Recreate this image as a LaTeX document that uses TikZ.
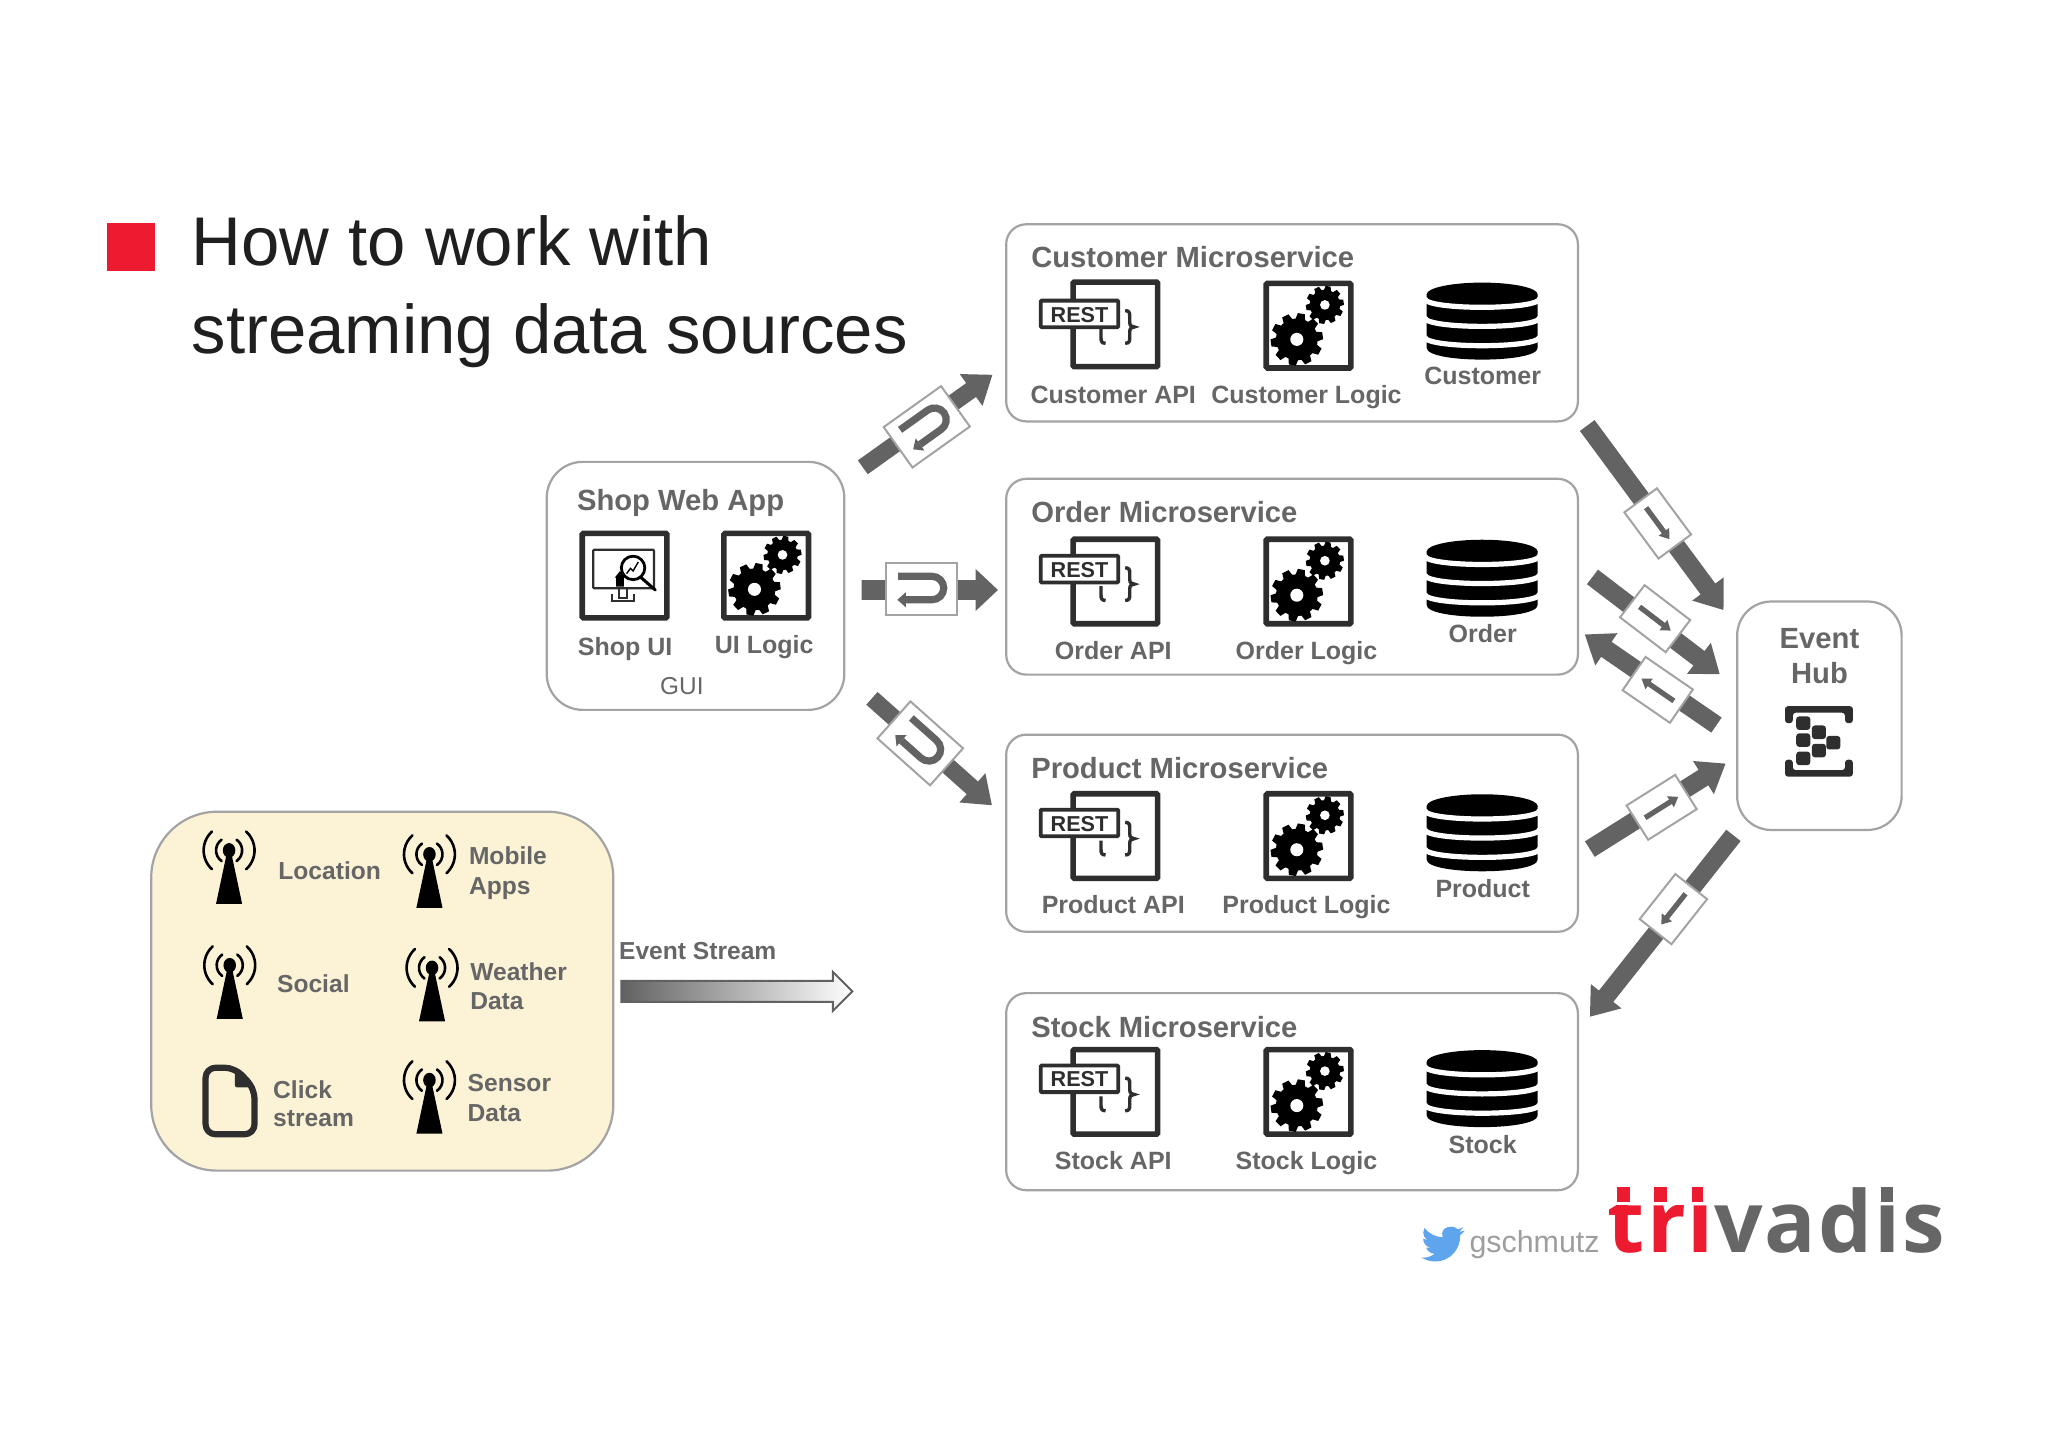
\documentclass[tikz,border=0pt]{standalone}
\usepackage{fontspec}
\setmainfont{Liberation Sans}
\newfontfamily\logofont[LetterSpace=2.5]{Open Sans}
\usetikzlibrary{calc}
\definecolor{txtgrey}{HTML}{666666}
\definecolor{flowgrey}{HTML}{636363}
\definecolor{edgegrey}{HTML}{A3A3A3}
\definecolor{icondark}{HTML}{2E2E2E}
\definecolor{creamfill}{HTML}{FCF3D6}
\definecolor{trired}{HTML}{ED1B2F}
\definecolor{birdblue}{HTML}{5FA5EE}
\def\uu{0.65265pt}
\tikzset{
  panel/.style={draw=edgegrey,line width=1.1pt,fill=white,rounded corners=10pt,inner sep=0pt,anchor=north west},
  headtxt/.style={anchor=base west,inner sep=0pt,xshift=0.5pt,yshift=-0.4pt,text=txtgrey,font=\fontsize{14.6}{17}\selectfont\bfseries},
  lbl/.style={anchor=base,inner sep=0pt,xshift=0.6pt,yshift=-0.6pt,text=txtgrey,font=\fontsize{12.5}{15}\selectfont\bfseries},
  lblw/.style={anchor=base west,inner sep=0pt,yshift=-0.6pt,text=txtgrey,font=\fontsize{12.3}{15}\selectfont\bfseries},
  flowbox/.style={draw=edgegrey,line width=1pt,fill=white,inner sep=0pt},
}
\newcommand\gearshape[5]{%
  \begin{scope}[shift={(#1,#2)}]
    \fill[black] (0,0) circle[radius={0.8*#3}];
    \foreach \a in {1,...,#5}{
      \fill[black,rotate={\a*360/#5+8}] ({0.7*#3},{-0.2*#3}) -- ({#3},{-0.135*#3}) -- ({#3},{0.135*#3}) -- ({0.7*#3},{0.2*#3}) -- cycle;
    }
    \fill[white] (0,0) circle[radius={#4}];
  \end{scope}}
\newcommand\logicicon[2]{%
  \draw[icondark,line width=2.8pt,fill=white,rounded corners=0.6pt] (#1+2.1,#2+2.1) rectangle (#1+66.9,#2+66.9);
  \gearshape{#1+25.5}{#2+45}{20}{5}{10}
  \gearshape{#1+47}{#2+18.6}{14.5}{3.7}{10}}
% x, y of the document, vertical nudge of the REST tab
\newcommand\resticon[3]{%
  \begin{scope}[shift={(#1,#2)}]
    \draw[icondark,line width=2.8pt,fill=white,rounded corners=0.6pt] (2.1,2.1) rectangle (66.9,66.9);
    \draw[icondark,line width=1.9pt,fill=white,rounded corners=0.5pt] (-22.7,16.3+#3) rectangle (36.7,36.7+#3);
    \node[inner sep=0pt,anchor=base,text=icondark,font=\fontsize{10.8}{12}\selectfont\bfseries] (rest) at (7,32.7+#3) {REST};
    \draw[icondark,line width=1.7pt] (42,24) .. controls (45,24) and (45.5,25.5) .. (45.5,28) -- (45.5,33) .. controls (45.5,35.5) and (47,36.5) .. (49,36.5) .. controls (47,36.5) and (45.5,37.5) .. (45.5,40) -- (45.5,45) .. controls (45.5,47.5) and (45,49) .. (42,49);
    \draw[icondark,line width=1.7pt] (23.5,38) -- (23.5,45) .. controls (23.5,47.5) and (24,49) .. (27,49);
  \end{scope}}
\newcommand\dbicon[2]{%
  \begin{scope}[shift={(#1,#2)}]
    \fill[black] (-42.5,9) -- (-42.5,50) .. controls (-42.5,62) and (42.5,62) .. (42.5,50) -- (42.5,9) -- cycle;
    \fill[black] (0,9) ellipse[x radius=42.5,y radius=9];
    \foreach \yy in {12.2,26.8,41.6}{
      \draw[white,line width=2.6pt] (-44,\yy) .. controls (-44,\yy+9) and (44,\yy+9) .. (44,\yy);
    }
  \end{scope}}
\newcommand\antennaicon[2]{%
  \begin{scope}[shift={(#1,#2)}]
    \fill[black] (-1.5,-40) -- (1.5,-40) -- (10,0) -- (-10,0) -- cycle;
    \fill[black] (0,-41) ellipse[x radius=4.8,y radius=5.6];
    \draw[black,line width=1.3pt,line cap=round] (0,-41) ++(125:10) arc[start angle=125,end angle=235,radius=10];
    \draw[black,line width=1.3pt,line cap=round] (0,-41) ++(55:10) arc[start angle=55,end angle=-55,radius=10];
    \draw[black,line width=1.3pt,line cap=round] (0,-41) ++(132:19.5) arc[start angle=132,end angle=228,radius=19.5];
    \draw[black,line width=1.3pt,line cap=round] (0,-41) ++(48:19.5) arc[start angle=48,end angle=-48,radius=19.5];
  \end{scope}}
% tail, tip, label centre, shaft w, head w, head len, box w, box h, glyph (0 straight, 1 U)
\newcommand\blockflow[9]{%
  \path (#1); \pgfgetlastxy{\xa}{\ya}%
  \path (#2); \pgfgetlastxy{\xb}{\yb}%
  \pgfmathsetmacro\ang{atan2(\yb-\ya,\xb-\xa)}%
  \pgfmathsetmacro\len{veclen(\xb-\xa,\yb-\ya)/0.65265}%
  \pgfmathsetmacro\neck{\len-#6}%
  \begin{scope}[shift={(#1)},rotate=\ang]
    \fill[flowgrey] (0,-#4/2) -- (\neck,-#4/2) -- (\neck,-#5/2) -- (\len,0) -- (\neck,#5/2) -- (\neck,#4/2) -- (0,#4/2) -- cycle;
  \end{scope}
  \node[flowbox,rotate=\ang,minimum width={#7*\uu},minimum height={#8*\uu}] (#3box) at (#3) {};
  \begin{scope}[shift={(#3)},rotate=\ang]
    \ifnum#9=1
      \draw[flowgrey,line width=3.6pt] (-18,-10) -- (8,-10) arc[start angle=-90,end angle=90,radius=9] -- (-12,8);
      \fill[flowgrey] (-18.5,8) -- (-12,2.2) -- (-12,13.8) -- cycle;
    \else
      \fill[flowgrey] (-15,-2) -- (8,-2) -- (8,-5) -- (15,0) -- (8,5) -- (8,2) -- (-15,2) -- cycle;
    \fi
  \end{scope}}
\begin{document}
\begin{tikzpicture}[x=0.65265pt,y=-0.65265pt]
\useasboundingbox (0,0) rectangle (1569,1108.6);
\fill[white] (0,0) rectangle (1569,1108.6);
% title
\fill[trired] (82,170.5) rectangle (119,207.5);
\node[anchor=base west,inner sep=0pt,text=black!88,font=\fontsize{34.45}{40}\selectfont] (title1) at (146.5,203.5) {How to work with};
\node[anchor=base west,inner sep=0pt,text=black!88,font=\fontsize{34.45}{40}\selectfont] (title2) at (146.5,270.5) {streaming data sources};
% panels
\node[panel,minimum width={438*\uu},minimum height={151*\uu}] (customer) at (770,171) {};
\node[panel,minimum width={438*\uu},minimum height={150*\uu}] (order) at (770,366) {};
\node[panel,minimum width={438*\uu},minimum height={151*\uu}] (product) at (770,562) {};
\node[panel,minimum width={438*\uu},minimum height={151*\uu}] (stock) at (770,760) {};
\node[panel,rounded corners=18pt,minimum width={228*\uu},minimum height={190*\uu}] (shop) at (418,353) {};
\node[panel,rounded corners=17pt,minimum width={126*\uu},minimum height={175*\uu}] (hub) at (1330,460) {};
\node[panel,rounded corners=33pt,fill=creamfill,minimum width={354*\uu},minimum height={275*\uu}] (sources) at (115,621) {};
% microservice rows
\node[headtxt] (ct) at (789,204.5) {Customer Microservice};
\node[headtxt] (ot) at (789,400) {Order Microservice};
\node[headtxt] (pt) at (789,596) {Product Microservice};
\node[headtxt] (st) at (789,794) {Stock Microservice};
\resticon{820}{214}{0}\logicicon{968}{215}\dbicon{1135.5}{216.5}
\resticon{820}{411}{-1.5}\logicicon{968}{411}\dbicon{1135.5}{413.5}
\resticon{820}{606}{-2}\logicicon{968}{606}\dbicon{1135.5}{608.5}
\resticon{820}{802}{-2}\logicicon{968}{802}\dbicon{1135.5}{804.5}
\node[lbl] (c1) at (852,308) {Customer API};
\node[lbl] (c2) at (1000,308) {Customer Logic};
\node[lbl] (c3) at (1135,293.5) {Customer};
\node[lbl] (o1) at (852,504) {Order API};
\node[lbl] (o2) at (1000,504) {Order Logic};
\node[lbl] (o3) at (1135,491) {Order};
\node[lbl] (p1) at (852,699) {Product API};
\node[lbl] (p2) at (1000,699) {Product Logic};
\node[lbl] (p3) at (1135,686.5) {Product};
\node[lbl] (s1) at (852,895) {Stock API};
\node[lbl] (s2) at (1000,895) {Stock Logic};
\node[lbl] (s3) at (1135,883) {Stock};
% shop
\node[headtxt] (sh) at (441,390.5) {Shop Web App};
\begin{scope}[shift={(444,406.5)}]
  \draw[icondark,line width=2.8pt,fill=white,rounded corners=0.6pt] (2.1,2.1) rectangle (66.9,66.9);
  \draw[icondark,line width=1.1pt,rounded corners=0.5pt] (10.5,14.6) rectangle (57,44.2);
  \draw[icondark,line width=1pt] (30,44.2) -- (30,51.6) -- (36.5,51.6) -- (36.5,44.2);
  \draw[icondark,line width=1pt] (25,48.5) -- (25,54) -- (42,54) -- (42,48.5);
  \draw[black,line width=1.5pt,line cap=round] (46,35) -- (58,45.5);
  \draw[black,fill=white,line width=1.4pt] (41,28.6) circle[radius=9];
  \draw[black,line width=0.7pt] (36,33) -- (39,29) -- (41,31) -- (45,24);
  \fill[black] (27,36) -- (31,31) -- (35,36) -- (34,36) -- (34,43) -- (28,43) -- (28,36) -- cycle;
\end{scope}
\logicicon{552.5}{406.5}
\node[lbl] (s4) at (478,501.5) {Shop UI};
\node[lbl] (s5) at (584.5,499.5) {UI Logic};
\node[lbl,font=\fontsize{12.2}{15}\selectfont] (gui) at (521.5,531.5) {GUI};
% hub
\node[lbl,font=\fontsize{14.6}{17}\selectfont\bfseries] (h1) at (1393,496) {Event};
\node[lbl,font=\fontsize{14.6}{17}\selectfont\bfseries] (h2) at (1393,523) {Hub};
\begin{scope}[shift={(1393.5,568)}]
  \fill[icondark,rounded corners=1.5pt] (-26,-14) -- (-26,-27) -- (26,-27) -- (26,-14) -- (20,-14) -- (20,-22) -- (-20,-22) -- (-20,-14) -- cycle;
  \fill[icondark,rounded corners=1.5pt] (-26,14) -- (-26,27) -- (26,27) -- (26,14) -- (20,14) -- (20,22) -- (-20,22) -- (-20,14) -- cycle;
  \foreach \cx/\cy in {-12/-14,-12/-1,-12/13,0/-7,0/7,11/1}{
    \fill[icondark,rounded corners=1.5pt] (\cx-5.4,\cy-5.2) rectangle (\cx+5.4,\cy+5.2);
  }
\end{scope}
% sources
\antennaicon{175.5}{692.5}\antennaicon{329}{695.5}\antennaicon{176}{780.5}\antennaicon{331}{782.5}\antennaicon{329}{868.5}
\draw[icondark,line width=3.1pt,line join=round,fill=creamfill,rounded corners=5pt] (157.5,818) -- (180,818) -- (195,834) -- (195,869) -- (157.5,869) -- cycle;
\fill[icondark,rounded corners=1pt] (180,818) -- (180,833) -- (196,833) -- cycle;
\node[lblw] (l1) at (213,672.5) {Location};
\node[lblw] (l2) at (359,661.5) {Mobile};
\node[lblw] (l3) at (359,684) {Apps};
\node[lblw] (l4) at (212,759.5) {Social};
\node[lblw] (l5) at (360,750.5) {Weather};
\node[lblw] (l6) at (360,772.5) {Data};
\node[lblw] (l7) at (209,840.5) {Click};
\node[lblw] (l8) at (209,862) {stream};
\node[lblw] (l9) at (358,835.5) {Sensor};
\node[lblw] (l10) at (358,858) {Data};
\node[lblw] (es) at (474,734.5) {Event Stream};
\shadedraw[left color=black!62,middle color=black!14,right color=white,draw=black!62,line width=1pt] (476,751.5) -- (638,751.5) -- (638,744.5) -- (653,759.5) -- (638,774.5) -- (638,767.5) -- (476,767.5) -- cycle;
% flows
\coordinate (a1t) at (661,358); \coordinate (a1h) at (760.5,287); \coordinate (a1c) at (710,327);
\coordinate (a2t) at (660,452); \coordinate (a2h) at (764.5,452); \coordinate (a2c) at (706,451.5);
\coordinate (a3t) at (668,535); \coordinate (a3h) at (760,617); \coordinate (a3c) at (705,569.5);
\coordinate (a4t) at (1216,326); \coordinate (a4h) at (1320.5,467.5); \coordinate (a4c) at (1270,401);
\coordinate (a5t) at (1220,442); \coordinate (a5h) at (1317.5,516.5); \coordinate (a5c) at (1268,474);
\coordinate (a6t) at (1315,555.5); \coordinate (a6h) at (1214,486); \coordinate (a6c) at (1270,528.5);
\coordinate (a7t) at (1218,650.5); \coordinate (a7h) at (1322,585); \coordinate (a7c) at (1273,618.5);
\coordinate (a8t) at (1328,640); \coordinate (a8h) at (1218,779); \coordinate (a8c) at (1282,696.5);
\blockflow{a1t}{a1h}{a1c}{13}{30}{20}{54}{38}{1}
\blockflow{a2t}{a2h}{a2c}{15}{32}{17}{55}{40}{1}
\blockflow{a3t}{a3h}{a3c}{13}{30}{20}{54}{38}{1}
\blockflow{a4t}{a4h}{a4c}{14}{30}{20}{44}{31}{0}
\blockflow{a5t}{a5h}{a5c}{14}{30}{20}{44}{31}{0}
\blockflow{a6t}{a6h}{a6c}{14}{30}{20}{44}{31}{0}
\blockflow{a7t}{a7h}{a7c}{14}{30}{20}{44}{31}{0}
\blockflow{a8t}{a8h}{a8c}{14}{30}{20}{44}{31}{0}
% footer
\begin{scope}[shift={(1089,936.5)},x=0.8974pt,y=-0.8974pt]
\fill[birdblue] (23.953,4.57) -- (21.128,5.345) -- (23.291,2.622) .. controls (22.34,3.177) and (21.286,3.581) .. (20.164,3.806) .. controls (18,1.3) and (10,1.8) .. (11.78,8.288) .. controls (7.69,8.095) and (4.067,6.13) .. (1.64,3.162) -- (0.974,5.637) .. controls (0.974,7.347) and (1.844,8.85) .. (3.162,9.733) -- (0.934,9.117) -- (0.934,9.177) .. controls (0.934,11.5) and (2.6,13.5) .. (4.88,14.004) -- (2.668,14.089) .. controls (3.3,16) and (5.1,17.4) .. (7.272,17.506) .. controls (5.6,18.8) and (3.5,19.611) .. (1.17,19.611) .. controls (0.78,19.611) and (0.39,19.588) .. (0,19.544) .. controls (2.2,21) and (4.8,21.753) .. (7.557,21.753) .. controls (16.61,21.753) and (21.555,14.257) .. (21.555,7.768) .. controls (21.555,7.558) and (21.555,7.348) .. (21.54,7.138) .. controls (22.5,6.45) and (23.3,5.6) .. (24,4.59) -- cycle;
\end{scope}
\node[anchor=base west,inner sep=0pt,text=black!38,font=\fontsize{15.2}{18}\selectfont] (gs) at (1125.5,959.5) {gschmutz};
\node[anchor=base west,inner sep=0pt,font=\fontsize{42.7}{50}\selectfont] (logo) at (1231.5,959.5) {\logofont\bfseries\textcolor{trired}{tri}\textcolor{txtgrey}{vadis}};
% square logo marks
\fill[white] (1228,898) rectangle (1310,923);
\fill[white] (1436,898) rectangle (1456,923);
\fill[trired] (1239,909.5) rectangle (1249,920.5);
\fill[trired] (1267,909.5) rectangle (1277,920.5);
\fill[trired] (1296,909.5) rectangle (1305,920.5);
\fill[txtgrey] (1441,909.5) rectangle (1450,920.5);
\end{tikzpicture}
\end{document}
